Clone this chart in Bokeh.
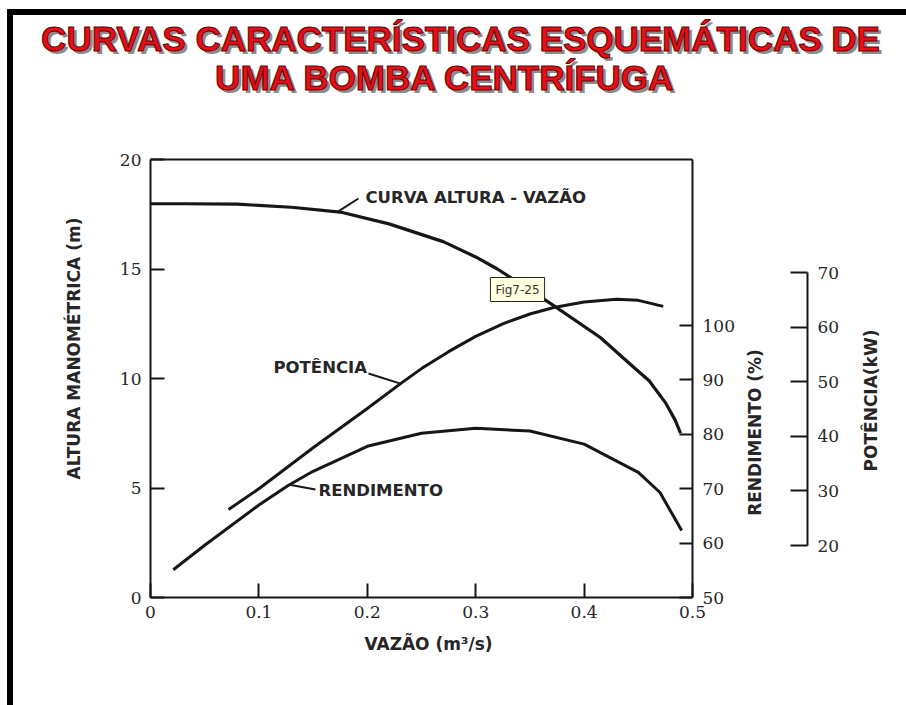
import numpy as np
from bokeh.plotting import figure
from bokeh.layouts import column
from bokeh.models import Range1d, LinearAxis, Label, FixedTicker
from bokeh.embed import file_html
from bokeh.resources import INLINE

# ---------------- dados ----------------
# curva altura-vazão
vazao_altura = [0.0, 0.03, 0.08, 0.13, 0.175, 0.22, 0.27, 0.30, 0.32, 0.35, 0.372, 0.415, 0.446, 0.46, 0.475, 0.484, 0.489]
altura = [17.98, 17.98, 17.96, 17.82, 17.6, 17.06, 16.25, 15.55, 15.0, 14.05, 13.33, 11.87, 10.5, 9.9, 8.9, 8.1, 7.5]

# potência (kW)
vazao_potencia = [0.072, 0.1, 0.15, 0.2, 0.231, 0.25, 0.275, 0.3, 0.325, 0.35, 0.372, 0.4, 0.43, 0.45, 0.473]
potencia = [26.6, 30.4, 37.9, 45.1, 49.7, 52.4, 55.5, 58.3, 60.6, 62.4, 63.6, 64.6, 65.1, 64.9, 63.8]

# rendimento (%)
vazao_rend = [0.021, 0.05, 0.1, 0.127, 0.15, 0.2, 0.25, 0.3, 0.35, 0.4, 0.45, 0.47, 0.49]
rendimento = [55.1, 59.6, 67.0, 70.6, 73.2, 77.8, 80.2, 81.1, 80.6, 78.2, 73.0, 69.3, 62.3]

q_ticks = [0, 0.1, 0.2, 0.3, 0.4, 0.5]
q_tick_labels = ["0", "0.1", "0.2", "0.3", "0.4", "0.5"]
h_ticks = [0, 5, 10, 15, 20]
rend_ticks = [50, 60, 70, 80, 90, 100]
pot_ticks = [20, 30, 40, 50, 60, 70]

# ---------------- página ----------------
PAGE_W, PAGE_H = 906, 705
BAR = 6                      # espessura da moldura preta
OFF_X, OFF_Y = 7, 9
FIG_X0, FIG_Y0 = OFF_X + BAR, OFF_Y + BAR
BOX_L, BOX_R, BOX_T, BOX_B = 150, 692, 159, 597   # caixa do gráfico (px da página)
Q_MAX, H_MAX = 0.5, 20.0


def q_of(px):
    return (px - BOX_L) / (BOX_R - BOX_L) * Q_MAX


def h_of(py):
    return (BOX_B - py) / (BOX_B - BOX_T) * H_MAX


def scale_of(v0, y0, v1, y1):
    """escala vertical secundária: valor v0 na linha y0, v1 na linha y1"""
    return lambda py: v0 + (y0 - py) * (v1 - v0) / (y0 - y1)


r_of = scale_of(50, 597, 100, 325)    # rendimento (%)
p_of = scale_of(20, 545, 70, 272)     # potência (kW)


def at(px, py):
    return q_of(px), h_of(py)


p = figure(width=PAGE_W - FIG_X0, height=PAGE_H - FIG_Y0,
           x_range=Range1d(q_of(FIG_X0), q_of(PAGE_W)),
           y_range=Range1d(h_of(PAGE_H), h_of(FIG_Y0)),
           min_border=0, x_axis_type=None, y_axis_type=None,
           toolbar_location=None, output_backend="svg")
p.extra_y_ranges = {"rend": Range1d(r_of(PAGE_H), r_of(FIG_Y0)),
                    "pot": Range1d(p_of(PAGE_H), p_of(FIG_Y0))}
p.outline_line_color = None
p.background_fill_color = "white"
p.border_fill_color = "white"

INK = "#161616"
TICK_FONT = "DejaVu Serif"
LABEL_FONT = "DejaVu Sans"


def style_axis(ax, tick_in):
    ax.axis_line_color = INK
    ax.axis_line_width = 2
    ax.major_tick_line_color = INK
    ax.major_tick_line_width = 2
    ax.major_tick_in = tick_in
    ax.major_tick_out = 0
    ax.minor_tick_line_color = None
    ax.major_label_text_font = TICK_FONT
    ax.major_label_text_font_size = "17px"
    ax.major_label_text_color = "#262626"


# eixo das alturas
yax = LinearAxis(ticker=FixedTicker(ticks=h_ticks), fixed_location=0, bounds=(0, H_MAX))
style_axis(yax, 14)
yax.major_label_standoff = 9
p.add_layout(yax, "left")

# eixo das vazões
xax = LinearAxis(ticker=FixedTicker(ticks=q_ticks), fixed_location=0, bounds=(0, Q_MAX),
                 major_label_overrides=dict(zip(q_ticks, q_tick_labels)))
style_axis(xax, 14)
xax.major_label_standoff = 8
p.add_layout(xax, "below")

# linha superior da caixa
tax = LinearAxis(ticker=FixedTicker(ticks=[]), fixed_location=H_MAX, bounds=(0, Q_MAX))
style_axis(tax, 0)
p.add_layout(tax, "above")

# eixo do rendimento, na borda direita da caixa
rax = LinearAxis(y_range_name="rend", ticker=FixedTicker(ticks=rend_ticks),
                 fixed_location=Q_MAX, bounds=(r_of(BOX_B), r_of(BOX_T)))
style_axis(rax, 13)
rax.major_label_standoff = 10
p.add_layout(rax, "right")

# eixo da potência, afastado da caixa
pax = LinearAxis(y_range_name="pot", ticker=FixedTicker(ticks=pot_ticks),
                 fixed_location=q_of(807), bounds=(20, 70))
style_axis(pax, 17)
pax.major_label_standoff = 10
p.add_layout(pax, "right")

# ---------------- curvas ----------------
p.line(vazao_altura, altura, line_color=INK, line_width=3.2, line_join="round")
p.line(vazao_potencia, potencia, line_color=INK, line_width=3, line_join="round", y_range_name="pot")
p.line(vazao_rend, rendimento, line_color=INK, line_width=3, line_join="round", y_range_name="rend")

# ---------------- rótulos das curvas ----------------
CURVE_FONT = dict(text_font=LABEL_FONT, text_font_style="bold", text_font_size="16.5px",
                  text_color="#262626", text_align="left", text_baseline="middle")

x, y = at(365, 197)
p.add_layout(Label(x=x, y=y, text="CURVA ALTURA - VAZÃO", **CURVE_FONT))
q1 = q_of(337)
p.segment(x0=[q_of(358)], y0=[h_of(198)], x1=[q1], y1=[np.interp(q1, vazao_altura, altura)],
          line_color=INK, line_width=2)

x, y = at(273, 367)
p.add_layout(Label(x=x, y=y, text="POTÊNCIA", **CURVE_FONT))
q1 = q_of(400)
p.segment(x0=[q_of(368)], y0=[p_of(373)], x1=[q1], y1=[np.interp(q1, vazao_potencia, potencia)],
          line_color=INK, line_width=2, y_range_name="pot")

x, y = at(318, 490)
p.add_layout(Label(x=x, y=y, text="RENDIMENTO", **CURVE_FONT))
q1 = q_of(289)
p.segment(x0=[q_of(315)], y0=[r_of(489)], x1=[q1], y1=[np.interp(q1, vazao_rend, rendimento)],
          line_color=INK, line_width=2, y_range_name="rend")

# ---------------- títulos dos eixos ----------------
AXIS_TITLE = dict(text_font=LABEL_FONT, text_font_style="bold", text_font_size="17px",
                  text_color="#262626", text_align="center", text_baseline="middle")
for text, (px, py), ang in [("ALTURA MANOMÉTRICA (m)", (73, 348), np.pi / 2),
                            ("VAZÃO (m³/s)", (428, 643), 0),
                            ("RENDIMENTO (%)", (754, 432), np.pi / 2),
                            ("POTÊNCIA(kW)", (870, 400), np.pi / 2)]:
    x, y = at(px, py)
    p.add_layout(Label(x=x, y=y, text=text, angle=ang, **AXIS_TITLE))

# ---------------- etiqueta da figura ----------------
x, y = at(517, 289)
fig_tag = Label(x=x, y=y, text="Fig7-25", text_font="DejaVu Sans", text_font_size="12px",
                text_color="#333333", text_align="center", text_baseline="middle",
                background_fill_color="#ffffe0", border_line_color="#222222", border_line_width=1)
if "padding" in Label.properties():
    fig_tag.padding = 5
p.add_layout(fig_tag)

# ---------------- título ----------------
TITLE = dict(text_font="Liberation Sans", text_font_style="bold", text_font_size="35px",
             text_align="center", text_baseline="middle")
for text, (px, py) in [("CURVAS CARACTERÍSTICAS ESQUEMÁTICAS DE", (460, 38)),
                       ("UMA BOMBA CENTRÍFUGA", (445, 77))]:
    x, y = at(px, py)
    p.add_layout(Label(x=x, y=y, x_offset=3, y_offset=-3, text=text, text_color="#8c8c8c", **TITLE))
    lab = Label(x=x, y=y, text=text, text_color="#e3101a", **TITLE)
    if "text_outline_color" in Label.properties():
        lab.text_outline_color = "#6a0000"
    p.add_layout(lab)

page = column(p, styles={"border-top": f"{BAR}px solid black", "border-left": f"{BAR}px solid black",
                         "margin-left": f"{OFF_X}px", "margin-top": f"{OFF_Y}px"})

open("out.html", "w").write(file_html(page, INLINE, title="Curvas características"))
